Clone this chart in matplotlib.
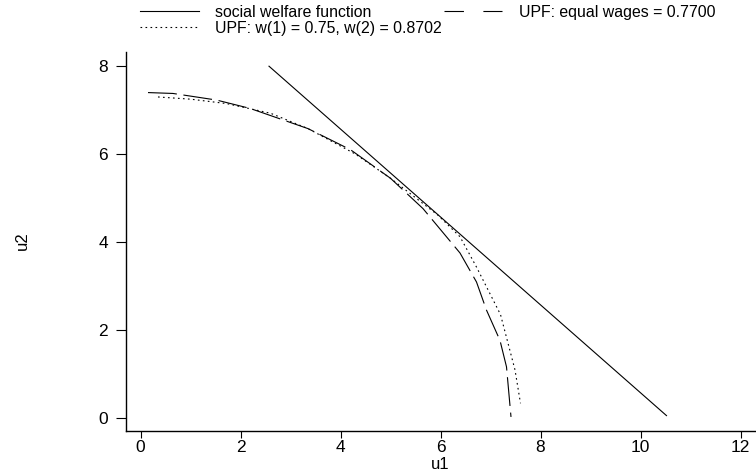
import matplotlib.pyplot as plt
from matplotlib.lines import Line2D

plt.rcParams['font.family'] = ['Liberation Sans', 'DejaVu Sans']

# social welfare function (straight line)
swf_u1 = [2.57, 10.52]
swf_u2 = [8.00, 0.05]

# UPF with equal wages
eq_u1 = [0.15, 0.65, 1.52, 2.19, 3.35, 4.20, 5.00, 5.65, 6.39, 6.72, 6.92, 7.19, 7.32, 7.41]
eq_u2 = [7.40, 7.38, 7.23, 7.04, 6.58, 6.10, 5.45, 4.76, 3.75, 3.09, 2.45, 1.76, 1.16, 0.02]

# UPF with w(1)=0.75, w(2)=0.8702
w_u1 = [0.35, 1.00, 1.72, 2.60, 3.35, 4.30, 5.00, 5.95, 6.39, 6.72, 7.20, 7.49, 7.60]
w_u2 = [7.30, 7.25, 7.15, 6.93, 6.58, 6.00, 5.45, 4.61, 4.12, 3.43, 2.35, 1.09, 0.33]

xticks = [0, 2, 4, 6, 8, 10, 12]
yticks = [0, 2, 4, 6, 8]

W, H = 756, 471
fig = plt.figure(figsize=(W / 100, H / 100), dpi=100)
ax = fig.add_axes([125.5 / W, 1 - 431 / H, (755 - 125.5) / W, (431 - 51.7) / H])

lw = 0.8
ax.plot(swf_u1, swf_u2, color='black', lw=lw)
ax.plot(eq_u1, eq_u2, color='black', lw=lw, linestyle=(0, (26, 6)))
ax.plot(w_u1, w_u2, color='black', lw=lw, linestyle=(0, (1.5, 3)))

ax.set_xlim(-0.3, 12.29)
ax.set_ylim(-0.30, 8.33)
ax.set_xticks(xticks)
ax.set_yticks(yticks)
for s in ['top', 'right']:
    ax.spines[s].set_visible(False)
for s in ['left', 'bottom']:
    ax.spines[s].set_linewidth(1.0)
ax.tick_params(axis='x', direction='out', length=5.3, width=0.8, pad=1.5, labelsize=12.5)
ax.tick_params(axis='y', direction='out', length=7.5, width=0.8, pad=5, labelsize=12.5)

fig.text(22 / W, 1 - 241 / H, 'u2', rotation=90, ha='center', va='center', fontsize=12)
fig.text(440 / W, 1 - 457 / H, 'u1', ha='center', va='top', fontsize=12)

h_swf = Line2D([], [], color='black', lw=lw)
h_w = Line2D([], [], color='black', lw=lw, linestyle=(0, (1.5, 3)))
h_eq = Line2D([], [], color='black', lw=lw, linestyle=(0, (17.5, 17.5)))
ax.legend([h_swf, h_w, h_eq],
          ['social welfare function', 'UPF: w(1) = 0.75, w(2) = 0.8702', 'UPF: equal wages = 0.7700'],
          ncol=2, loc='upper left', bbox_to_anchor=(140 / W, 1 - 5 / H), bbox_transform=fig.transFigure,
          frameon=False, borderpad=0, borderaxespad=0, fontsize=11.4,
          handlelength=3.7, handletextpad=1.05, columnspacing=0.1, labelspacing=0.05)

fig.savefig('out.png', dpi=100)
